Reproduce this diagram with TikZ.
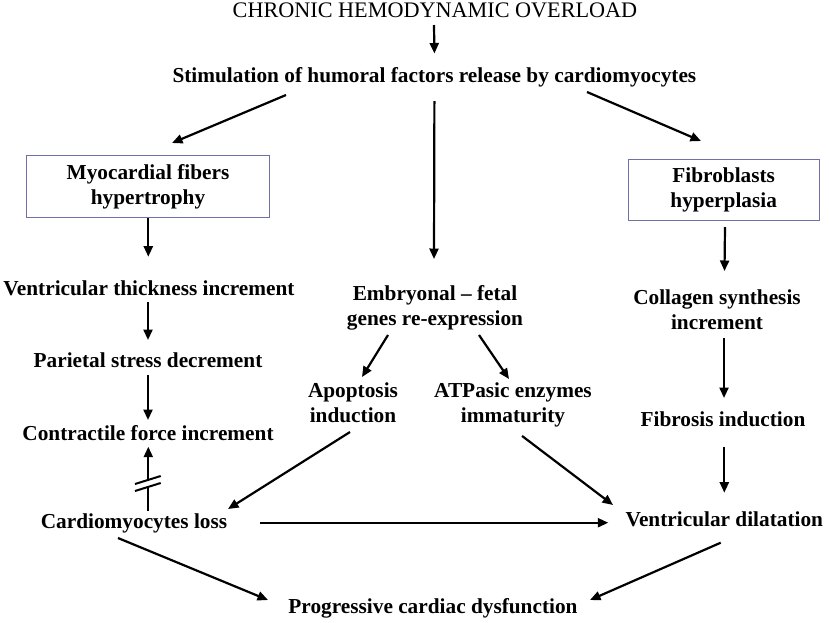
\documentclass[tikz,border=0pt]{standalone}
\usepackage{fontspec}
\setmainfont{Liberation Serif}
\usetikzlibrary{arrows.meta}

\definecolor{boxblue}{RGB}{112,112,168}

\tikzset{
  txt/.style={font=\bfseries\fontsize{21.3}{25}\selectfont, inner sep=0pt, align=center},
  ttl/.style={font=\fontsize{22.2}{26}\selectfont, inner sep=0pt},
  box/.style={txt, draw=boxblue, line width=1pt},
  arr/.style={line width=2.2pt, -{Triangle[length=10.5pt,width=9pt]}}
}

\begin{document}
\begin{tikzpicture}[x=1pt,y=-1pt]
        \useasboundingbox (0,0) rectangle (829,622);

        % Text Node
        \node[ttl, anchor=base] (title) at (435,17.3) {CHRONIC HEMODYNAMIC OVERLOAD};
        % Text Node
        \node[txt, anchor=base] (stim) at (434.4,82) {Stimulation of humoral factors release by cardiomyocytes};
        %Shape: Rectangle
        \node[box, minimum width=242.6pt, minimum height=62pt] (myo) at (148,186.7) {Myocardial fibers\\hypertrophy};
        %Shape: Rectangle
        \node[box, minimum width=190.7pt, minimum height=61pt] (fib) at (723.7,189.5) {Fibroblasts\\hyperplasia};
        % Text Node
        \node[txt, anchor=base] (vti) at (149,295) {Ventricular thickness increment};
        \node[txt, anchor=base] (psd) at (148,367) {Parietal stress decrement};
        \node[txt, anchor=base] (cfi) at (148,440) {Contractile force increment};
        \node[txt, anchor=base] (cml) at (134,528) {Cardiomyocytes loss};
        % Text Node
        \node[txt] (emb) at (435,307.6) {Embryonal -- fetal\\genes re-expression};
        \node[txt] (apo) at (353,402.5) {Apoptosis\\induction};
        \node[txt] (atp) at (513,404.9) {ATPasic enzymes\\immaturity};
        % Text Node
        \node[txt] (csi) at (717,310) {Collagen synthesis\\increment};
        \node[txt, anchor=base] (fbi) at (723,426.7) {Fibrosis induction};
        \node[txt, anchor=base] (vdl) at (724.3,526) {Ventricular dilatation};
        % Text Node
        \node[txt, anchor=base] (pcd) at (433,613.3) {Progressive cardiac dysfunction};

        %Straight Lines
        \draw[arr] ([shift={(-1,7.7)}]title.base) -- ([shift={(0,-28.5)}]stim.base);
        \draw[arr] ([shift={(-148.4,13)}]stim.base) -- ([shift={(24,-43.7)}]myo.center);
        \draw[arr] ([shift={(0,19)}]stim.base) -- ([shift={(-1,-48.6)}]emb.center);
        \draw[arr] ([shift={(152.6,10)}]stim.base) -- ([shift={(-22.7,-48.5)}]fib.center);
        %Straight Lines
        \draw[arr] ([shift={(0.3,31.3)}]myo.center) -- ([shift={(-0.7,-38.3)}]vti.base);
        \draw[arr] ([shift={(-1,7)}]vti.base) -- ([shift={(0,-27)}]psd.base);
        \draw[arr] ([shift={(0,8)}]psd.base) -- ([shift={(0,-20)}]cfi.base);
        \draw[arr] ([shift={(14.3,-17.3)}]cml.base) -- ([shift={(0.3,6.7)}]cfi.base);
        % break marks
        \coordinate (brk) at (148.3,483.5);
        \fill[white] ([shift={(-13.3,0.5)}]brk) -- ++(25.7,-8) -- ++(0,7.3) -- ++(-25.7,8) -- cycle;
        \draw[line width=2pt] ([shift={(-13.3,0.5)}]brk) -- ++(25.7,-8);
        \draw[line width=2pt] ([shift={(-13.3,7.5)}]brk) -- ++(25.7,-8);
        %Straight Lines
        \draw[arr] ([shift={(-47,27.4)}]emb.center) -- ([shift={(9,-25.5)}]apo.center);
        \draw[arr] ([shift={(44,27.4)}]emb.center) -- ([shift={(-4,-25.9)}]atp.center);
        \draw[arr] ([shift={(-3,29.5)}]apo.center) -- ([shift={(94,-19)}]cml.base);
        \draw[arr] ([shift={(9,31)}]atp.center) -- ([shift={(-111.3,-21)}]vdl.base);
        %Straight Lines
        \draw[arr] ([shift={(1.3,37.5)}]fib.center) -- ([shift={(7.5,-39)}]csi.center);
        \draw[arr] ([shift={(7,28)}]csi.center) -- ([shift={(1,-28.7)}]fbi.base);
        \draw[arr] ([shift={(1.3,20)}]fbi.base) -- ([shift={(0,-33.3)}]vdl.base);
        %Straight Lines
        \draw[arr] ([shift={(126,-5.3)}]cml.base) -- ([shift={(-116,-3.3)}]vdl.base);
        \draw[arr] ([shift={(-16,10)}]cml.base) -- ([shift={(-165,-13.3)}]pcd.base);
        \draw[arr] ([shift={(-3.6,16.7)}]vdl.base) -- ([shift={(157,-13.3)}]pcd.base);

\end{tikzpicture}
\end{document}
